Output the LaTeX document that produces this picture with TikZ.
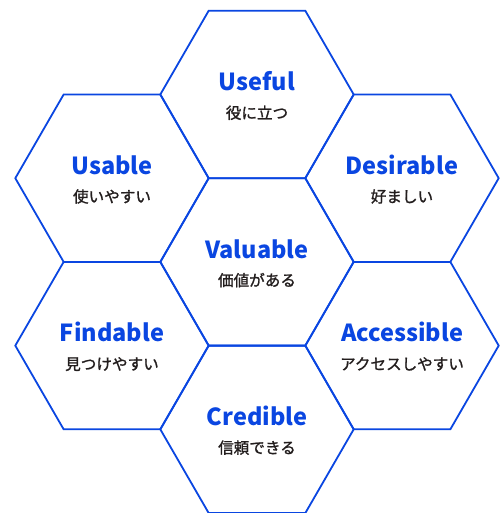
\documentclass[tikz,border=0pt]{standalone}
\usepackage{fontspec}
\setmainfont{Noto Sans CJK JP}
\newfontfamily\jpfont[FakeBold=1.3]{Noto Sans CJK JP}
\definecolor{hexblue}{RGB}{10,70,225}
\definecolor{jpgray}{RGB}{35,30,30}
\tikzset{
  hexline/.style={draw=hexblue,line width=1.8pt,line join=miter},
  entitle/.style={font=\fontsize{23.5}{23.5}\selectfont\bfseries,text=hexblue,anchor=base,inner sep=0pt},
  jptitle/.style={font=\fontsize{15.6}{15.6}\selectfont\jpfont,text=jpgray,anchor=base,inner sep=0pt}
}
\newcommand\hexcell[5]{%
  \draw[hexline] (#2-96.7,#3) -- (#2-48.35,#3-83.7) -- (#2+48.35,#3-83.7) -- (#2+96.7,#3)
     -- (#2+48.35,#3+83.7) -- (#2-48.35,#3+83.7) -- cycle;
  \node[entitle] (#1en) at (#2,#3-3.8) {#4};
  \node[jptitle] (#1jp) at (#2,#3+24.2) {#5};
}
\begin{document}
\begin{tikzpicture}[x=1pt,y=-1pt]
\useasboundingbox (0,0) rectangle (502,513);
\hexcell{useful}{257}{94.5}{Useful}{役に立つ}
\hexcell{usable}{112}{178.2}{Usable}{使いやすい}
\hexcell{desirable}{402}{178.2}{Desirable}{好ましい}
\hexcell{valuable}{257}{261.9}{Valuable}{価値がある}
\hexcell{findable}{112}{345.6}{Findable}{見つけやすい}
\hexcell{accessible}{402}{345.6}{Accessible}{アクセスしやすい}
\hexcell{credible}{257}{429.3}{Credible}{信頼できる}
\end{tikzpicture}
\end{document}
